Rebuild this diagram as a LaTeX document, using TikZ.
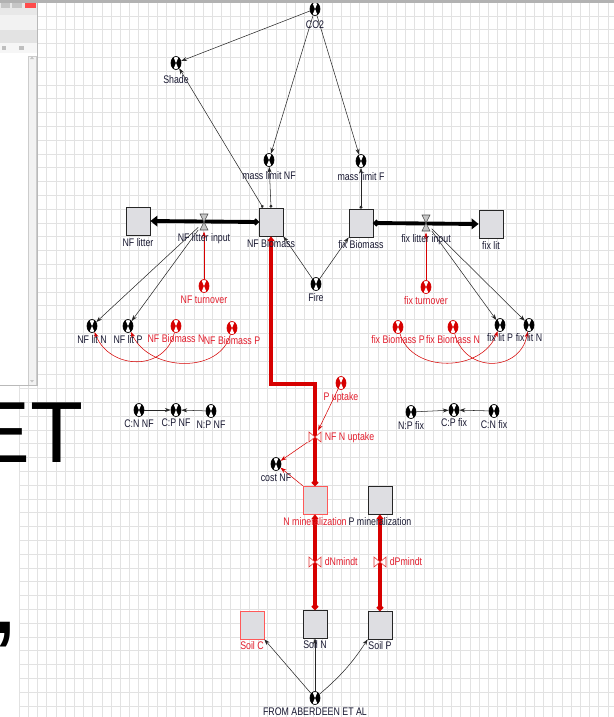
\documentclass[tikz,border=0pt]{standalone}
\usepackage{fontspec}
\setmainfont{Liberation Sans}
\newfontfamily\labfont[FakeStretch=0.8]{Liberation Sans}
\usetikzlibrary{positioning, arrows.meta, shapes.geometric}
\definecolor{stkred}{RGB}{215,0,0}
\definecolor{labk}{RGB}{25,25,50}
\definecolor{labr}{RGB}{225,30,45}
\definecolor{stockfill}{RGB}{222,222,226}
\definecolor{gridc}{RGB}{226,226,226}

\begin{document}
\begin{tikzpicture}[x=0.03cm, y=-0.03cm, font={\labfont\fontsize{9.4pt}{10pt}\selectfont},
          conv/.style ={ellipse, draw=black, fill=black, line width=0.6pt, minimum width=0.3cm,
                        minimum height=0.39cm, inner sep=0pt,
                        path picture={\fill[white] (path picture bounding box.center) -- ++(-0.09cm,0.21cm) -- ++(0.18cm,0) -- cycle
                                                   (path picture bounding box.center) -- ++(-0.09cm,-0.21cm) -- ++(0.18cm,0) -- cycle;}},
          rconv/.style={conv, draw=stkred, fill=stkred},
          stock/.style={rectangle, draw=black!85, fill=stockfill, line width=0.6pt, minimum width=0.72cm,
                        minimum height=0.84cm, inner sep=0pt},
          rstock/.style={stock, draw=red!65},
          valve/.style={rectangle, minimum width=0.33cm, minimum height=0.56cm, inner sep=0pt,
                        path picture={\filldraw[fill=gray!45, draw=gray!60!black, line width=0.5pt]
                            (path picture bounding box.center) -- ++(-0.12cm,0.24cm) -- ++(0.24cm,0) -- cycle
                            (path picture bounding box.center) -- ++(-0.12cm,-0.24cm) -- ++(0.24cm,0) -- cycle;}},
          rvalve/.style={rectangle, minimum width=0.44cm, minimum height=0.38cm, inner sep=0pt,
                        path picture={\filldraw[fill=white, draw=stkred!80, line width=0.5pt]
                            (path picture bounding box.center) -- ++(-0.18cm,0.15cm) -- ++(0,-0.3cm) -- cycle
                            (path picture bounding box.center) -- ++(0.18cm,0.15cm) -- ++(0,-0.3cm) -- cycle;}},
          pipe/.style ={draw=black, line width=3.3pt, {Circle[length=5pt]}-{Triangle[length=6pt, width=9pt]}},
          rpipe/.style={draw=stkred, line width=3.3pt, line join=miter, {Circle[length=5pt]}-{Triangle[length=4pt, width=6pt]}},
          con/.style  ={draw=black!85, line width=0.45pt, -{Stealth[length=5pt, width=3.5pt]}},
          dcon/.style ={con, {Circle[length=2.5pt]}-{Stealth[length=5pt, width=3.5pt]}},
          rcon/.style ={con, draw=stkred},
          lab/.style  ={text=labk, inner sep=0pt, text height=7pt, text depth=1.8pt},
          rlab/.style ={lab, text=labr},
          gridline/.style={draw=gridc, line width=0.6pt}]
  \useasboundingbox (0,0) rectangle (614,717);
  \clip (0,0) rectangle (614,717);
  \fill[white] (0,0) rectangle (614,717);

  % grid
  \foreach \gx in {0,...,64}
    \draw[gridline] ({19.1+9.2*\gx},2) -- ({19.1+9.2*\gx},717);
  \foreach \gy in {0,...,50}
    \draw[gridline] (19,{16+13.8*\gy}) -- (614,{16+13.8*\gy});

  % window in the corner
  \fill[white] (0,0) rectangle (37,385);
  \fill[gray!18] (0,0) rectangle (37,15);
  \fill[gray!45] (1,3) rectangle (10,8);
  \fill[gray!45] (12,3) rectangle (22,8);
  \fill[red!70] (25,3) rectangle (36,8);
  \fill[gray!10] (0,15) rectangle (37,30);
  \fill[gray!22] (0,30) rectangle (37,43);
  \fill[gray!7] (0,43) rectangle (37,53);
  \fill[gray!50] (2,46) rectangle (6,50);
  \fill[gray!50] (19,46) rectangle (24,50);
  \fill[gray!10] (28,56) rectangle (36,385);
  \draw[gray!40, line width=0.4pt] (28,56) rectangle (36,385);
  \fill[gray!45] (30,59) -- (34,59) -- (32,56.5) -- cycle;
  \fill[gray!45] (30,380) -- (34,380) -- (32,382.5) -- cycle;
  \draw[gray!55, line width=0.6pt] (37,0) -- (37,385) -- (0,385);

  % slide text
  \node[anchor=base east, inner sep=0pt, font=\rmfamily\fontsize{74pt}{80pt}\selectfont] (bigtxt) at (84,462) {ET};
  \node[anchor=base west, inner sep=0pt, font=\rmfamily\fontsize{90pt}{90pt}\selectfont] (comma) at (-10,633) {,};

  % stocks
  \node[stock] (nflit) at (138,221) {};
  \node[stock] (nfbio) at (271,222) {};
  \node[stock] (fixbio) at (361,223) {};
  \node[stock] (fixlit) at (491,224) {};
  \node[rstock] (nmin) at (315,500) {};
  \node[stock] (pmin) at (380,500) {};
  \node[rstock] (soilc) at (252,625) {};
  \node[stock] (soiln) at (315,624) {};
  \node[stock] (soilp) at (380,625) {};

  % flows
  \coordinate (bend) at (271,384);
  \draw[pipe] (nfbio.west) -- (nflit.east);
  \draw[pipe] (fixbio.east) -- (fixlit.west);
  \draw[rpipe] (nmin.north) |- (bend) -- (nfbio.south);
  \draw[rpipe] (soiln.north) -- (nmin.south);
  \draw[rpipe] (soilp.north) -- (pmin.south);
  \node[valve] (nfin) at (204,222) {};
  \node[valve] (fixin) at (426,223) {};
  \node[rvalve] (nfnup) at (315,437) {};
  \node[rvalve] (dnmin) at (315,562) {};
  \node[rvalve] (dpmin) at (380,562) {};

  % converters
  \node[conv] (co2) at (315,9) {};
  \node[conv] (shade) at (176,63) {};
  \node[conv] (mlnf) at (269,160) {};
  \node[conv] (mlf) at (361,161) {};
  \node[rconv] (nfto) at (204,286) {};
  \node[conv] (fire) at (316,284) {};
  \node[conv] (nflitn) at (92,326) {};
  \node[conv] (nflitp) at (128,326) {};
  \node[rconv] (nfbn) at (176,326) {};
  \node[rconv] (nfbp) at (232,328) {};
  \node[rconv] (fixto) at (426,287) {};
  \node[rconv] (fixbp) at (398,327) {};
  \node[rconv] (fixbn) at (453,327) {};
  \node[conv] (fixlitp) at (500,325) {};
  \node[conv] (fixlitn) at (529,325) {};
  \node[conv] (cnnf) at (139,410) {};
  \node[conv] (cpnf) at (176,410) {};
  \node[conv] (npnf) at (211,411) {};
  \node[conv] (npfix) at (411,412) {};
  \node[conv] (cpfix) at (454,410) {};
  \node[conv] (cnfix) at (494,411) {};
  \node[rconv] (pup) at (341,383) {};
  \node[conv] (costnf) at (276,464) {};
  \node[conv] (aber) at (315,698) {};

  % connectors
  \draw[con] (co2) -- (shade);
  \draw[con] (co2) -- (mlnf);
  \draw[con] (co2) -- (mlf);
  \draw[dcon] ([xshift=-0.24cm]nfbio.north) -- (shade);
  \draw[dcon] (nfbio.north) -- (mlnf);
  \draw[dcon] (fixbio.north) -- (mlf);
  \draw[con] (fire) -- (nfbio.south east);
  \draw[con] (fire) -- (fixbio.south west);
  \draw[con] (nfin) -- (nflitn);
  \draw[con] (nfin) -- (nflitp);
  \draw[con] (fixin) -- (fixlitp);
  \draw[con] (fixin) -- (fixlitn);
  \draw[rcon] (nfto) -- (nfin.south);
  \draw[rcon] (fixto) -- (fixin.south);
  \draw[rcon] (nfbn) .. controls (165,372) and (110,370) .. (nflitn);
  \draw[rcon] (nfbp) .. controls (220,374) and (150,372) .. (nflitp);
  \draw[rcon] (fixbp) .. controls (412,374) and (482,372) .. (fixlitp);
  \draw[rcon] (fixbn) .. controls (465,374) and (520,372) .. (fixlitn);
  \draw[con] (cnnf) -- (cpnf);
  \draw[con] (npnf) -- (cpnf);
  \draw[con] (npfix) -- (cpfix);
  \draw[con] (cnfix) -- (cpfix);
  \draw[rcon] (pup) -- (nfnup);
  \draw[rcon] (nfnup) -- (costnf);
  \draw[rcon] (nmin.north west) -- (costnf);
  \draw[con] (aber) -- (soilc.south east);
  \draw[con] (aber) -- (soiln);
  \draw[con] (aber) to[bend right=8] (soilp.south west);

  % labels
  \node[lab, below=1.2mm of co2] (co2L) {CO2};
  \node[lab, below=1.6mm of shade] (shadeL) {Shade};
  \node[lab, below=1.2mm of mlnf] (mlnfL) {mass limit NF};
  \node[lab, below=1.2mm of mlf] (mlfL) {mass limit F};
  \node[lab, below=0.8mm of nflit] (nflitL) {NF litter};
  \node[lab, below=0.8mm of nfbio] (nfbioL) {NF Biomass};
  \node[lab, below=0.8mm of fixbio] (fixbioL) {fix Biomass};
  \node[lab, below=0.8mm of fixlit] (fixlitL) {fix lit};
  \node[lab, below=0.5mm of nfin] (nfinL) {NF litter input};
  \node[lab, below=0.5mm of fixin] (fixinL) {fix litter input};
  \node[rlab, below=0.8mm of nfto] (nftoL) {NF turnover};
  \node[lab, below=0.8mm of fire] (fireL) {Fire};
  \node[rlab, below=0.8mm of fixto] (fixtoL) {fix turnover};
  \node[lab, below=0.8mm of nflitn] (nflitnL) {NF lit N};
  \node[lab, below=0.8mm of nflitp] (nflitpL) {NF lit P};
  \node[rlab, below=0.5mm of nfbn] (nfbnL) {NF Biomass N};
  \node[rlab, below=0.5mm of nfbp] (nfbpL) {NF Biomass P};
  \node[rlab, below=0.5mm of fixbp] (fixbpL) {fix Biomass P};
  \node[rlab, below=0.5mm of fixbn] (fixbnL) {fix Biomass N};
  \node[lab, below=0.5mm of fixlitp] (fixlitpL) {fix lit P};
  \node[lab, below=0.5mm of fixlitn] (fixlitnL) {fix lit N};
  \node[lab, below=0.8mm of cnnf] (cnnfL) {C:N NF};
  \node[lab, below=0.4mm of cpnf] (cpnfL) {C:P NF};
  \node[lab, below=0.8mm of npnf] (npnfL) {N:P NF};
  \node[lab, below=0.8mm of npfix] (npfixL) {N:P fix};
  \node[lab, below=0.4mm of cpfix] (cpfixL) {C:P fix};
  \node[lab, below=0.8mm of cnfix] (cnfixL) {C:N fix};
  \node[rlab, below=0.6mm of pup] (pupL) {P uptake};
  \node[rlab, right=0.6mm of nfnup] (nfnupL) {NF N uptake};
  \node[lab, below=0.6mm of costnf] (costnfL) {cost NF};
  \node[rlab, below=0.8mm of nmin] (nminL) {N mineralization};
  \node[lab, below=0.8mm of pmin] (pminL) {P mineralization};
  \node[rlab, right=0.6mm of dnmin] (dnminL) {dNmindt};
  \node[rlab, right=0.6mm of dpmin] (dpminL) {dPmindt};
  \node[rlab, below=0.6mm of soilc] (soilcL) {Soil C};
  \node[lab, below=0.6mm of soiln] (soilnL) {Soil N};
  \node[lab, below=0.6mm of soilp] (soilpL) {Soil P};
  \node[lab, below=0.6mm of aber] (aberL) {FROM ABERDEEN ET AL};

  % top bar
  \fill[gray!60] (0,0) rectangle (614,2.5);
\end{tikzpicture}
\end{document}
